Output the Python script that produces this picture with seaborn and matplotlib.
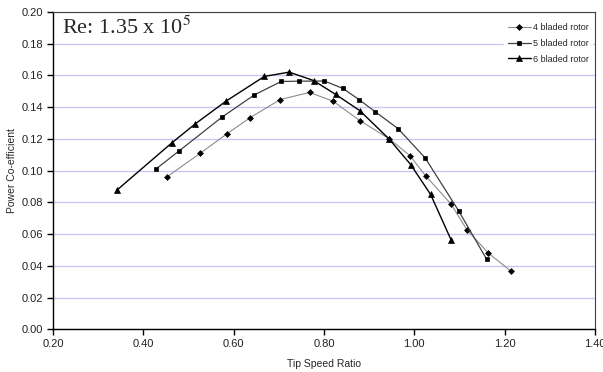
import matplotlib
matplotlib.use("Agg")
import matplotlib.pyplot as plt
import seaborn as sns
import pandas as pd

tsr4 = [0.452, 0.526, 0.586, 0.637, 0.703, 0.768, 0.820, 0.879, 0.945, 0.990, 1.026, 1.081, 1.116, 1.164, 1.214]
cp4 = [0.096, 0.111, 0.1234, 0.1335, 0.1448, 0.1493, 0.1438, 0.1316, 0.120, 0.1095, 0.0964, 0.079, 0.0629, 0.048, 0.0366]
tsr5 = [0.427, 0.479, 0.574, 0.645, 0.705, 0.745, 0.801, 0.842, 0.878, 0.914, 0.964, 1.024, 1.098, 1.160]
cp5 = [0.1008, 0.1124, 0.1337, 0.1476, 0.1562, 0.1564, 0.1565, 0.1518, 0.1447, 0.137, 0.1265, 0.108, 0.0747, 0.0442]
tsr6 = [0.341, 0.463, 0.515, 0.584, 0.668, 0.723, 0.777, 0.826, 0.879, 0.944, 0.992, 1.036, 1.081]
cp6 = [0.0876, 0.1175, 0.1295, 0.144, 0.1594, 0.1621, 0.1568, 0.148, 0.1379, 0.120, 0.1038, 0.085, 0.0566]
labels = ["4 bladed rotor", "5 bladed rotor", "6 bladed rotor"]
xticks = [0.20, 0.40, 0.60, 0.80, 1.00, 1.20, 1.40]
yticks = [0.00, 0.02, 0.04, 0.06, 0.08, 0.10, 0.12, 0.14, 0.16, 0.18, 0.20]

sns.set_style("white")
plt.rcParams['font.family'] = ['Liberation Sans', 'DejaVu Sans']

fig = plt.figure(figsize=(6.03, 3.72), dpi=100)
ax = fig.add_axes([53/603, 1 - 329.3/372, (595-53)/603, (329.3-12)/372])

series = [(tsr4, cp4, "#8c8c8c", "D", 3.0, 0.8),
          (tsr5, cp5, "#404040", "s", 3.2, 0.9),
          (tsr6, cp6, "#000000", "^", 4.0, 1.0)]
for (x, y, c, m, ms, lw), lab in zip(series, labels):
    df = pd.DataFrame({"x": x, "y": y})
    sns.lineplot(data=df, x="x", y="y", ax=ax, color=c, marker=m, markersize=ms,
                 markerfacecolor="black", markeredgecolor="black", markeredgewidth=0.5,
                 linewidth=lw, sort=False, estimator=None, label=lab)

ax.set_xlim(0.2, 1.4)
ax.set_ylim(0.0, 0.2)
ax.set_xticks(xticks)
ax.set_yticks(yticks)
ax.set_xticklabels([f"{v:.2f}" for v in xticks], fontsize=8)
ax.set_yticklabels([f"{v:.2f}" for v in yticks], fontsize=8)
ax.yaxis.grid(True, color="#c8c8f4", linewidth=1.0)
ax.xaxis.grid(False)
ax.set_axisbelow(True)
for s in ["left", "bottom"]:
    ax.spines[s].set_color("black")
    ax.spines[s].set_linewidth(1.0)
for s in ["top", "right"]:
    ax.spines[s].set_color("#404040")
    ax.spines[s].set_linewidth(0.8)
ax.tick_params(axis="both", which="major", direction="out", length=4, width=1.0,
               color="black", pad=3, bottom=True, left=True, labelcolor="#222222")
ax.set_xlabel("Tip Speed Ratio", fontsize=7.5, labelpad=7)
ax.set_ylabel("Power Co-efficient", fontsize=7.5, labelpad=3)

ax.text(0.017, 0.985, r"Re: 1.35 x 10$^5$", transform=ax.transAxes, fontsize=16,
        family="Liberation Serif", va="top", ha="left",
        math_fontfamily="stix")

leg = ax.legend(loc="upper right", bbox_to_anchor=(1.0, 0.985), frameon=True,
                fontsize=6.5, handlelength=2.6, handletextpad=0.2,
                labelspacing=0.75, borderaxespad=0.3)
leg.get_frame().set_edgecolor("white")
leg.get_frame().set_facecolor("white")
leg.get_frame().set_alpha(1.0)

fig.savefig("out.png", dpi=100)
